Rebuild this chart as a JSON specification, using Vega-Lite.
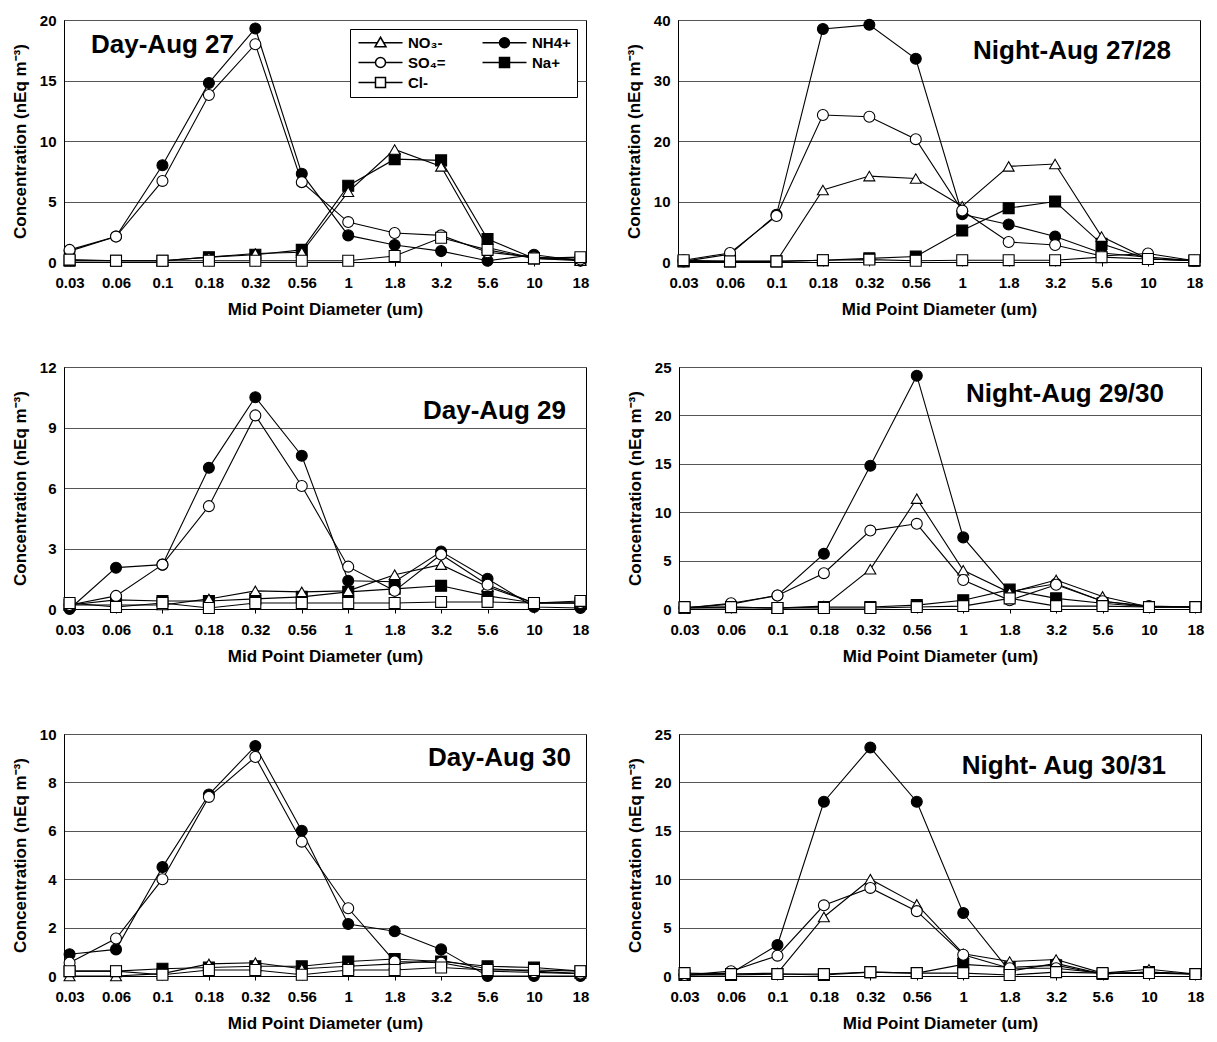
{
  "$schema": "https://vega.github.io/schema/vega-lite/v6.json",
  "background": "white",
  "padding": {"left": 10, "top": 12, "right": 2, "bottom": 2},
  "config": {
    "font": "Liberation Sans",
    "view": {"stroke": "black", "strokeWidth": 1},
    "axis": {"labelFont": "Liberation Sans", "labelFontWeight": "bold", "labelFontSize": 15, "labelColor": "black", "titleFont": "Liberation Sans", "titleFontWeight": "bold", "titleFontSize": 17, "titleColor": "black", "domainColor": "black"},
    "axisX": {"grid": false, "labelAngle": 0, "tickColor": "black", "tickSize": 4, "labelPadding": 9, "titlePadding": 11},
    "axisY": {"gridColor": "#555555", "gridWidth": 1, "ticks": false, "labelPadding": 8, "titlePadding": 10},
    "title": {"font": "Liberation Sans", "fontWeight": "bold", "fontSize": 26, "color": "black", "frame": "group"}
  },
  "datasets": {
    "p1": [
      {"d":"0.03","s":"NH4+","v":0.9},{"d":"0.06","s":"NH4+","v":2.1},{"d":"0.1","s":"NH4+","v":8.0},{"d":"0.18","s":"NH4+","v":14.8},{"d":"0.32","s":"NH4+","v":19.3},{"d":"0.56","s":"NH4+","v":7.3},{"d":"1","s":"NH4+","v":2.2},{"d":"1.8","s":"NH4+","v":1.4},{"d":"3.2","s":"NH4+","v":0.9},{"d":"5.6","s":"NH4+","v":0.1},{"d":"10","s":"NH4+","v":0.6},{"d":"18","s":"NH4+","v":0.1},
      {"d":"0.03","s":"Na+","v":0.1},{"d":"0.06","s":"Na+","v":0.1},{"d":"0.1","s":"Na+","v":0.1},{"d":"0.18","s":"Na+","v":0.4},{"d":"0.32","s":"Na+","v":0.6},{"d":"0.56","s":"Na+","v":1.0},{"d":"1","s":"Na+","v":6.3},{"d":"1.8","s":"Na+","v":8.5},{"d":"3.2","s":"Na+","v":8.4},{"d":"5.6","s":"Na+","v":1.9},{"d":"10","s":"Na+","v":0.3},{"d":"18","s":"Na+","v":0.2},
      {"d":"0.03","s":"NO₃-","v":0.1},{"d":"0.06","s":"NO₃-","v":0.1},{"d":"0.1","s":"NO₃-","v":0.1},{"d":"0.18","s":"NO₃-","v":0.4},{"d":"0.32","s":"NO₃-","v":0.7},{"d":"0.56","s":"NO₃-","v":0.8},{"d":"1","s":"NO₃-","v":5.8},{"d":"1.8","s":"NO₃-","v":9.3},{"d":"3.2","s":"NO₃-","v":7.9},{"d":"5.6","s":"NO₃-","v":1.2},{"d":"10","s":"NO₃-","v":0.3},{"d":"18","s":"NO₃-","v":0.1},
      {"d":"0.03","s":"SO₄=","v":1.0},{"d":"0.06","s":"SO₄=","v":2.1},{"d":"0.1","s":"SO₄=","v":6.7},{"d":"0.18","s":"SO₄=","v":13.8},{"d":"0.32","s":"SO₄=","v":18.0},{"d":"0.56","s":"SO₄=","v":6.6},{"d":"1","s":"SO₄=","v":3.3},{"d":"1.8","s":"SO₄=","v":2.4},{"d":"3.2","s":"SO₄=","v":2.2},{"d":"5.6","s":"SO₄=","v":0.8},{"d":"10","s":"SO₄=","v":0.4},{"d":"18","s":"SO₄=","v":0.2},
      {"d":"0.03","s":"Cl-","v":0.2},{"d":"0.06","s":"Cl-","v":0.1},{"d":"0.1","s":"Cl-","v":0.1},{"d":"0.18","s":"Cl-","v":0.1},{"d":"0.32","s":"Cl-","v":0.1},{"d":"0.56","s":"Cl-","v":0.1},{"d":"1","s":"Cl-","v":0.1},{"d":"1.8","s":"Cl-","v":0.5},{"d":"3.2","s":"Cl-","v":2.0},{"d":"5.6","s":"Cl-","v":1.0},{"d":"10","s":"Cl-","v":0.3},{"d":"18","s":"Cl-","v":0.4}
    ],
    "p2": [
      {"d":"0.03","s":"NH4+","v":0.1},{"d":"0.06","s":"NH4+","v":1.3},{"d":"0.1","s":"NH4+","v":7.8},{"d":"0.18","s":"NH4+","v":38.5},{"d":"0.32","s":"NH4+","v":39.2},{"d":"0.56","s":"NH4+","v":33.6},{"d":"1","s":"NH4+","v":7.9},{"d":"1.8","s":"NH4+","v":6.2},{"d":"3.2","s":"NH4+","v":4.2},{"d":"5.6","s":"NH4+","v":1.5},{"d":"10","s":"NH4+","v":0.8},{"d":"18","s":"NH4+","v":0.2},
      {"d":"0.03","s":"Na+","v":0.1},{"d":"0.06","s":"Na+","v":0.1},{"d":"0.1","s":"Na+","v":0.1},{"d":"0.18","s":"Na+","v":0.3},{"d":"0.32","s":"Na+","v":0.6},{"d":"0.56","s":"Na+","v":0.9},{"d":"1","s":"Na+","v":5.2},{"d":"1.8","s":"Na+","v":8.9},{"d":"3.2","s":"Na+","v":10.0},{"d":"5.6","s":"Na+","v":3.0},{"d":"10","s":"Na+","v":0.5},{"d":"18","s":"Na+","v":0.2},
      {"d":"0.03","s":"NO₃-","v":0.1},{"d":"0.06","s":"NO₃-","v":0.1},{"d":"0.1","s":"NO₃-","v":0.1},{"d":"0.18","s":"NO₃-","v":11.9},{"d":"0.32","s":"NO₃-","v":14.2},{"d":"0.56","s":"NO₃-","v":13.8},{"d":"1","s":"NO₃-","v":9.2},{"d":"1.8","s":"NO₃-","v":15.8},{"d":"3.2","s":"NO₃-","v":16.2},{"d":"5.6","s":"NO₃-","v":4.2},{"d":"10","s":"NO₃-","v":0.5},{"d":"18","s":"NO₃-","v":0.2},
      {"d":"0.03","s":"SO₄=","v":0.3},{"d":"0.06","s":"SO₄=","v":1.5},{"d":"0.1","s":"SO₄=","v":7.6},{"d":"0.18","s":"SO₄=","v":24.3},{"d":"0.32","s":"SO₄=","v":24.0},{"d":"0.56","s":"SO₄=","v":20.3},{"d":"1","s":"SO₄=","v":8.5},{"d":"1.8","s":"SO₄=","v":3.3},{"d":"3.2","s":"SO₄=","v":2.8},{"d":"5.6","s":"SO₄=","v":1.0},{"d":"10","s":"SO₄=","v":1.4},{"d":"18","s":"SO₄=","v":0.2},
      {"d":"0.03","s":"Cl-","v":0.3},{"d":"0.06","s":"Cl-","v":0.1},{"d":"0.1","s":"Cl-","v":0.1},{"d":"0.18","s":"Cl-","v":0.3},{"d":"0.32","s":"Cl-","v":0.4},{"d":"0.56","s":"Cl-","v":0.2},{"d":"1","s":"Cl-","v":0.3},{"d":"1.8","s":"Cl-","v":0.3},{"d":"3.2","s":"Cl-","v":0.3},{"d":"5.6","s":"Cl-","v":0.8},{"d":"10","s":"Cl-","v":0.5},{"d":"18","s":"Cl-","v":0.3}
    ],
    "p3": [
      {"d":"0.03","s":"NH4+","v":0.0},{"d":"0.06","s":"NH4+","v":2.05},{"d":"0.1","s":"NH4+","v":2.2},{"d":"0.18","s":"NH4+","v":7.0},{"d":"0.32","s":"NH4+","v":10.5},{"d":"0.56","s":"NH4+","v":7.6},{"d":"1","s":"NH4+","v":1.4},{"d":"1.8","s":"NH4+","v":1.35},{"d":"3.2","s":"NH4+","v":2.85},{"d":"5.6","s":"NH4+","v":1.5},{"d":"10","s":"NH4+","v":0.1},{"d":"18","s":"NH4+","v":0.05},
      {"d":"0.03","s":"Na+","v":0.2},{"d":"0.06","s":"Na+","v":0.45},{"d":"0.1","s":"Na+","v":0.4},{"d":"0.18","s":"Na+","v":0.4},{"d":"0.32","s":"Na+","v":0.5},{"d":"0.56","s":"Na+","v":0.6},{"d":"1","s":"Na+","v":0.85},{"d":"1.8","s":"Na+","v":1.0},{"d":"3.2","s":"Na+","v":1.15},{"d":"5.6","s":"Na+","v":0.65},{"d":"10","s":"Na+","v":0.3},{"d":"18","s":"Na+","v":0.3},
      {"d":"0.03","s":"NO₃-","v":0.2},{"d":"0.06","s":"NO₃-","v":0.2},{"d":"0.1","s":"NO₃-","v":0.2},{"d":"0.18","s":"NO₃-","v":0.5},{"d":"0.32","s":"NO₃-","v":0.9},{"d":"0.56","s":"NO₃-","v":0.85},{"d":"1","s":"NO₃-","v":0.9},{"d":"1.8","s":"NO₃-","v":1.7},{"d":"3.2","s":"NO₃-","v":2.2},{"d":"5.6","s":"NO₃-","v":1.1},{"d":"10","s":"NO₃-","v":0.3},{"d":"18","s":"NO₃-","v":0.3},
      {"d":"0.03","s":"SO₄=","v":0.2},{"d":"0.06","s":"SO₄=","v":0.65},{"d":"0.1","s":"SO₄=","v":2.2},{"d":"0.18","s":"SO₄=","v":5.1},{"d":"0.32","s":"SO₄=","v":9.6},{"d":"0.56","s":"SO₄=","v":6.1},{"d":"1","s":"SO₄=","v":2.1},{"d":"1.8","s":"SO₄=","v":0.9},{"d":"3.2","s":"SO₄=","v":2.7},{"d":"5.6","s":"SO₄=","v":1.2},{"d":"10","s":"SO₄=","v":0.3},{"d":"18","s":"SO₄=","v":0.3},
      {"d":"0.03","s":"Cl-","v":0.3},{"d":"0.06","s":"Cl-","v":0.1},{"d":"0.1","s":"Cl-","v":0.3},{"d":"0.18","s":"Cl-","v":0.05},{"d":"0.32","s":"Cl-","v":0.3},{"d":"0.56","s":"Cl-","v":0.3},{"d":"1","s":"Cl-","v":0.3},{"d":"1.8","s":"Cl-","v":0.3},{"d":"3.2","s":"Cl-","v":0.35},{"d":"5.6","s":"Cl-","v":0.35},{"d":"10","s":"Cl-","v":0.3},{"d":"18","s":"Cl-","v":0.4}
    ],
    "p4": [
      {"d":"0.03","s":"NH4+","v":0.1},{"d":"0.06","s":"NH4+","v":0.5},{"d":"0.1","s":"NH4+","v":1.4},{"d":"0.18","s":"NH4+","v":5.7},{"d":"0.32","s":"NH4+","v":14.8},{"d":"0.56","s":"NH4+","v":24.1},{"d":"1","s":"NH4+","v":7.4},{"d":"1.8","s":"NH4+","v":1.8},{"d":"3.2","s":"NH4+","v":2.6},{"d":"5.6","s":"NH4+","v":0.8},{"d":"10","s":"NH4+","v":0.3},{"d":"18","s":"NH4+","v":0.2},
      {"d":"0.03","s":"Na+","v":0.1},{"d":"0.06","s":"Na+","v":0.2},{"d":"0.1","s":"Na+","v":0.1},{"d":"0.18","s":"Na+","v":0.2},{"d":"0.32","s":"Na+","v":0.2},{"d":"0.56","s":"Na+","v":0.4},{"d":"1","s":"Na+","v":0.9},{"d":"1.8","s":"Na+","v":2.0},{"d":"3.2","s":"Na+","v":1.1},{"d":"5.6","s":"Na+","v":0.6},{"d":"10","s":"Na+","v":0.2},{"d":"18","s":"Na+","v":0.2},
      {"d":"0.03","s":"NO₃-","v":0.1},{"d":"0.06","s":"NO₃-","v":0.1},{"d":"0.1","s":"NO₃-","v":0.1},{"d":"0.18","s":"NO₃-","v":0.3},{"d":"0.32","s":"NO₃-","v":4.1},{"d":"0.56","s":"NO₃-","v":11.4},{"d":"1","s":"NO₃-","v":4.0},{"d":"1.8","s":"NO₃-","v":1.7},{"d":"3.2","s":"NO₃-","v":3.0},{"d":"5.6","s":"NO₃-","v":1.3},{"d":"10","s":"NO₃-","v":0.2},{"d":"18","s":"NO₃-","v":0.2},
      {"d":"0.03","s":"SO₄=","v":0.1},{"d":"0.06","s":"SO₄=","v":0.6},{"d":"0.1","s":"SO₄=","v":1.4},{"d":"0.18","s":"SO₄=","v":3.7},{"d":"0.32","s":"SO₄=","v":8.1},{"d":"0.56","s":"SO₄=","v":8.8},{"d":"1","s":"SO₄=","v":3.0},{"d":"1.8","s":"SO₄=","v":0.9},{"d":"3.2","s":"SO₄=","v":2.5},{"d":"5.6","s":"SO₄=","v":0.8},{"d":"10","s":"SO₄=","v":0.2},{"d":"18","s":"SO₄=","v":0.2},
      {"d":"0.03","s":"Cl-","v":0.2},{"d":"0.06","s":"Cl-","v":0.2},{"d":"0.1","s":"Cl-","v":0.1},{"d":"0.18","s":"Cl-","v":0.1},{"d":"0.32","s":"Cl-","v":0.1},{"d":"0.56","s":"Cl-","v":0.2},{"d":"1","s":"Cl-","v":0.3},{"d":"1.8","s":"Cl-","v":1.1},{"d":"3.2","s":"Cl-","v":0.3},{"d":"5.6","s":"Cl-","v":0.3},{"d":"10","s":"Cl-","v":0.2},{"d":"18","s":"Cl-","v":0.2}
    ],
    "p5": [
      {"d":"0.03","s":"NH4+","v":0.9},{"d":"0.06","s":"NH4+","v":1.1},{"d":"0.1","s":"NH4+","v":4.5},{"d":"0.18","s":"NH4+","v":7.5},{"d":"0.32","s":"NH4+","v":9.5},{"d":"0.56","s":"NH4+","v":6.0},{"d":"1","s":"NH4+","v":2.15},{"d":"1.8","s":"NH4+","v":1.85},{"d":"3.2","s":"NH4+","v":1.1},{"d":"5.6","s":"NH4+","v":0.0},{"d":"10","s":"NH4+","v":0.0},{"d":"18","s":"NH4+","v":0.0},
      {"d":"0.03","s":"Na+","v":0.2},{"d":"0.06","s":"Na+","v":0.2},{"d":"0.1","s":"Na+","v":0.3},{"d":"0.18","s":"Na+","v":0.35},{"d":"0.32","s":"Na+","v":0.4},{"d":"0.56","s":"Na+","v":0.4},{"d":"1","s":"Na+","v":0.6},{"d":"1.8","s":"Na+","v":0.7},{"d":"3.2","s":"Na+","v":0.6},{"d":"5.6","s":"Na+","v":0.4},{"d":"10","s":"Na+","v":0.35},{"d":"18","s":"Na+","v":0.2},
      {"d":"0.03","s":"NO₃-","v":0.0},{"d":"0.06","s":"NO₃-","v":0.0},{"d":"0.1","s":"NO₃-","v":0.1},{"d":"0.18","s":"NO₃-","v":0.5},{"d":"0.32","s":"NO₃-","v":0.55},{"d":"0.56","s":"NO₃-","v":0.3},{"d":"1","s":"NO₃-","v":0.4},{"d":"1.8","s":"NO₃-","v":0.5},{"d":"3.2","s":"NO₃-","v":0.65},{"d":"5.6","s":"NO₃-","v":0.3},{"d":"10","s":"NO₃-","v":0.2},{"d":"18","s":"NO₃-","v":0.1},
      {"d":"0.03","s":"SO₄=","v":0.55},{"d":"0.06","s":"SO₄=","v":1.55},{"d":"0.1","s":"SO₄=","v":4.0},{"d":"0.18","s":"SO₄=","v":7.4},{"d":"0.32","s":"SO₄=","v":9.05},{"d":"0.56","s":"SO₄=","v":5.55},{"d":"1","s":"SO₄=","v":2.8},{"d":"1.8","s":"SO₄=","v":0.6},{"d":"3.2","s":"SO₄=","v":0.55},{"d":"5.6","s":"SO₄=","v":0.2},{"d":"10","s":"SO₄=","v":0.15},{"d":"18","s":"SO₄=","v":0.1},
      {"d":"0.03","s":"Cl-","v":0.2},{"d":"0.06","s":"Cl-","v":0.2},{"d":"0.1","s":"Cl-","v":0.05},{"d":"0.18","s":"Cl-","v":0.25},{"d":"0.32","s":"Cl-","v":0.25},{"d":"0.56","s":"Cl-","v":0.05},{"d":"1","s":"Cl-","v":0.25},{"d":"1.8","s":"Cl-","v":0.25},{"d":"3.2","s":"Cl-","v":0.35},{"d":"5.6","s":"Cl-","v":0.25},{"d":"10","s":"Cl-","v":0.25},{"d":"18","s":"Cl-","v":0.2}
    ],
    "p6": [
      {"d":"0.03","s":"NH4+","v":0.1},{"d":"0.06","s":"NH4+","v":0.3},{"d":"0.1","s":"NH4+","v":3.2},{"d":"0.18","s":"NH4+","v":18.0},{"d":"0.32","s":"NH4+","v":23.6},{"d":"0.56","s":"NH4+","v":18.0},{"d":"1","s":"NH4+","v":6.5},{"d":"1.8","s":"NH4+","v":0.5},{"d":"3.2","s":"NH4+","v":1.3},{"d":"5.6","s":"NH4+","v":0.2},{"d":"10","s":"NH4+","v":0.4},{"d":"18","s":"NH4+","v":0.2},
      {"d":"0.03","s":"Na+","v":0.1},{"d":"0.06","s":"Na+","v":0.1},{"d":"0.1","s":"Na+","v":0.2},{"d":"0.18","s":"Na+","v":0.1},{"d":"0.32","s":"Na+","v":0.4},{"d":"0.56","s":"Na+","v":0.3},{"d":"1","s":"Na+","v":1.2},{"d":"1.8","s":"Na+","v":0.9},{"d":"3.2","s":"Na+","v":1.1},{"d":"5.6","s":"Na+","v":0.2},{"d":"10","s":"Na+","v":0.4},{"d":"18","s":"Na+","v":0.2},
      {"d":"0.03","s":"NO₃-","v":0.1},{"d":"0.06","s":"NO₃-","v":0.2},{"d":"0.1","s":"NO₃-","v":0.3},{"d":"0.18","s":"NO₃-","v":6.1},{"d":"0.32","s":"NO₃-","v":10.0},{"d":"0.56","s":"NO₃-","v":7.4},{"d":"1","s":"NO₃-","v":2.3},{"d":"1.8","s":"NO₃-","v":1.5},{"d":"3.2","s":"NO₃-","v":1.7},{"d":"5.6","s":"NO₃-","v":0.3},{"d":"10","s":"NO₃-","v":0.7},{"d":"18","s":"NO₃-","v":0.2},
      {"d":"0.03","s":"SO₄=","v":0.1},{"d":"0.06","s":"SO₄=","v":0.5},{"d":"0.1","s":"SO₄=","v":2.1},{"d":"0.18","s":"SO₄=","v":7.3},{"d":"0.32","s":"SO₄=","v":9.1},{"d":"0.56","s":"SO₄=","v":6.7},{"d":"1","s":"SO₄=","v":2.2},{"d":"1.8","s":"SO₄=","v":0.8},{"d":"3.2","s":"SO₄=","v":0.8},{"d":"5.6","s":"SO₄=","v":0.3},{"d":"10","s":"SO₄=","v":0.3},{"d":"18","s":"SO₄=","v":0.2},
      {"d":"0.03","s":"Cl-","v":0.3},{"d":"0.06","s":"Cl-","v":0.2},{"d":"0.1","s":"Cl-","v":0.2},{"d":"0.18","s":"Cl-","v":0.2},{"d":"0.32","s":"Cl-","v":0.4},{"d":"0.56","s":"Cl-","v":0.3},{"d":"1","s":"Cl-","v":0.3},{"d":"1.8","s":"Cl-","v":0.1},{"d":"3.2","s":"Cl-","v":0.4},{"d":"5.6","s":"Cl-","v":0.3},{"d":"10","s":"Cl-","v":0.3},{"d":"18","s":"Cl-","v":0.2}
    ]
  },
  "resolve": {"scale": {"shape": "independent", "fill": "independent"}, "legend": {"shape": "independent", "fill": "independent"}},
  "spacing": 41,
  "vconcat": [
    {
      "spacing": 21,
      "resolve": {"scale": {"shape": "independent", "fill": "independent"}, "legend": {"shape": "independent", "fill": "independent"}},
      "hconcat": [
        {
          "width": 522, "height": 242,
          "title": {"text": "Day-Aug 27", "anchor": "start", "offset": -45, "dx": 27},
          "data": {"name": "p1"},
          "encoding": {
            "x": {"field": "d", "type": "ordinal", "scale": {"type": "point", "domain": ["0.03","0.06","0.1","0.18","0.32","0.56","1","1.8","3.2","5.6","10","18"], "padding": 0.12}, "title": "Mid Point Diameter (um)"},
            "y": {"field": "v", "type": "quantitative", "scale": {"domain": [0, 20], "nice": false}, "axis": {"values": [0, 5, 10, 15, 20]}, "title": "Concentration (nEq m⁻³)"}
          },
          "resolve": {"scale": {"shape": "independent", "fill": "independent"}, "legend": {"shape": "independent", "fill": "independent"}},
          "layer": [
            {"mark": {"type": "line", "color": "black", "strokeWidth": 1.1}, "encoding": {"detail": {"field": "s", "type": "nominal"}}},
            {"mark": {"type": "point", "filled": true, "stroke": "black", "strokeWidth": 1.1, "size": 120, "opacity": 1},
             "encoding": {
               "shape": {"field": "s", "type": "nominal", "scale": {"domain": ["NH4+","Na+","NO₃-","SO₄=","Cl-"], "range": ["circle","square","triangle-up","circle","square"]}, "legend": null},
               "fill": {"field": "s", "type": "nominal", "scale": {"domain": ["NH4+","Na+","NO₃-","SO₄=","Cl-"], "range": ["black","black","white","white","white"]}, "legend": null}
             }},
            {"mark": {"type": "point", "filled": true, "stroke": "black", "strokeWidth": 1.1, "size": 100, "opacity": 0},
             "encoding": {
               "shape": {"field": "s", "type": "nominal", "scale": {"domain": ["NO₃-","SO₄=","Cl-","NH4+","Na+"], "range": ["M-4.4,0H-0.64M0.64,0H4.4M0,-1.1L1.1,0.8L-1.1,0.8Z", "M-4.4,0H-1M1,0H4.4M-1,0A1,1 0 1,1 1,0A1,1 0 1,1 -1,0Z", "M-4.4,0H-1M1,0H4.4M-1,-1H1V1H-1Z", "M-4.4,0H-1M1,0H4.4M-1,0A1,1 0 1,1 1,0A1,1 0 1,1 -1,0Z", "M-4.4,0H-1M1,0H4.4M-1,-1H1V1H-1Z"]},
                 "legend": {"orient": "top-right", "offset": 9, "columns": 2, "title": null, "strokeColor": "black", "fillColor": "white", "padding": 6, "labelFont": "Liberation Sans", "labelFontWeight": "bold", "labelFontSize": 15, "labelColor": "black", "symbolSize": 100, "symbolOpacity": 1, "symbolOffset": 17, "labelOffset": 20, "columnPadding": 33, "rowPadding": 3,
                   "encode": {"symbols": {"stroke": {"value": "black"}, "strokeWidth": {"value": 1.1}}}}},
               "fill": {"field": "s", "type": "nominal", "scale": {"domain": ["NO₃-","SO₄=","Cl-","NH4+","Na+"], "range": ["white","white","white","black","black"]},
                 "legend": {"orient": "top-right", "offset": 9, "columns": 2, "title": null, "strokeColor": "black", "fillColor": "white", "padding": 6, "labelFont": "Liberation Sans", "labelFontWeight": "bold", "labelFontSize": 15, "labelColor": "black", "symbolSize": 100, "symbolOpacity": 1, "symbolOffset": 17, "labelOffset": 20, "columnPadding": 33, "rowPadding": 3,
                   "encode": {"symbols": {"stroke": {"value": "black"}, "strokeWidth": {"value": 1.1}}}}}
             }}
          ]
        },
        {
          "width": 522, "height": 242,
          "title": {"text": "Night-Aug 27/28", "anchor": "end", "offset": -51, "dx": -29},
          "data": {"name": "p2"},
          "encoding": {
            "x": {"field": "d", "type": "ordinal", "scale": {"type": "point", "domain": ["0.03","0.06","0.1","0.18","0.32","0.56","1","1.8","3.2","5.6","10","18"], "padding": 0.12}, "title": "Mid Point Diameter (um)"},
            "y": {"field": "v", "type": "quantitative", "scale": {"domain": [0, 40], "nice": false}, "axis": {"values": [0, 10, 20, 30, 40]}, "title": "Concentration (nEq m⁻³)"}
          },
          "layer": [
            {"mark": {"type": "line", "color": "black", "strokeWidth": 1.1}, "encoding": {"detail": {"field": "s", "type": "nominal"}}},
            {"mark": {"type": "point", "filled": true, "stroke": "black", "strokeWidth": 1.1, "size": 120, "opacity": 1},
             "encoding": {
               "shape": {"field": "s", "type": "nominal", "scale": {"domain": ["NO₃-","SO₄=","Cl-","NH4+","Na+"], "range": ["triangle-up","circle","square","circle","square"]}, "legend": null},
               "fill": {"field": "s", "type": "nominal", "scale": {"domain": ["NO₃-","SO₄=","Cl-","NH4+","Na+"], "range": ["white","white","white","black","black"]}, "legend": null}
             }}
          ]
        }
      ]
    },
    {
      "spacing": 61,
      "resolve": {"scale": {"shape": "independent", "fill": "independent"}, "legend": {"shape": "independent", "fill": "independent"}},
      "vconcat": [
        {
          "spacing": 35,
          "resolve": {"scale": {"shape": "independent", "fill": "independent"}, "legend": {"shape": "independent", "fill": "independent"}},
          "hconcat": [
            {
              "width": 522, "height": 242,
              "title": {"text": "Day-Aug 29", "anchor": "end", "offset": -64, "dx": -20},
              "data": {"name": "p3"},
              "encoding": {
                "x": {"field": "d", "type": "ordinal", "scale": {"type": "point", "domain": ["0.03","0.06","0.1","0.18","0.32","0.56","1","1.8","3.2","5.6","10","18"], "padding": 0.12}, "title": "Mid Point Diameter (um)"},
                "y": {"field": "v", "type": "quantitative", "scale": {"domain": [0, 12], "nice": false}, "axis": {"values": [0, 3, 6, 9, 12]}, "title": "Concentration (nEq m⁻³)"}
              },
              "layer": [
                {"mark": {"type": "line", "color": "black", "strokeWidth": 1.1}, "encoding": {"detail": {"field": "s", "type": "nominal"}}},
                {"mark": {"type": "point", "filled": true, "stroke": "black", "strokeWidth": 1.1, "size": 120, "opacity": 1},
                 "encoding": {
                   "shape": {"field": "s", "type": "nominal", "scale": {"domain": ["NO₃-","SO₄=","Cl-","NH4+","Na+"], "range": ["triangle-up","circle","square","circle","square"]}, "legend": null},
                   "fill": {"field": "s", "type": "nominal", "scale": {"domain": ["NO₃-","SO₄=","Cl-","NH4+","Na+"], "range": ["white","white","white","black","black"]}, "legend": null}
                 }}
              ]
            },
            {
              "width": 522, "height": 242,
              "title": {"text": "Night-Aug 29/30", "anchor": "end", "offset": -47, "dx": -37},
              "data": {"name": "p4"},
              "encoding": {
                "x": {"field": "d", "type": "ordinal", "scale": {"type": "point", "domain": ["0.03","0.06","0.1","0.18","0.32","0.56","1","1.8","3.2","5.6","10","18"], "padding": 0.12}, "title": "Mid Point Diameter (um)"},
                "y": {"field": "v", "type": "quantitative", "scale": {"domain": [0, 25], "nice": false}, "axis": {"values": [0, 5, 10, 15, 20, 25]}, "title": "Concentration (nEq m⁻³)"}
              },
              "layer": [
                {"mark": {"type": "line", "color": "black", "strokeWidth": 1.1}, "encoding": {"detail": {"field": "s", "type": "nominal"}}},
                {"mark": {"type": "point", "filled": true, "stroke": "black", "strokeWidth": 1.1, "size": 120, "opacity": 1},
                 "encoding": {
                   "shape": {"field": "s", "type": "nominal", "scale": {"domain": ["NO₃-","SO₄=","Cl-","NH4+","Na+"], "range": ["triangle-up","circle","square","circle","square"]}, "legend": null},
                   "fill": {"field": "s", "type": "nominal", "scale": {"domain": ["NO₃-","SO₄=","Cl-","NH4+","Na+"], "range": ["white","white","white","black","black"]}, "legend": null}
                 }}
              ]
            }
          ]
        },
        {
          "spacing": 35,
          "resolve": {"scale": {"shape": "independent", "fill": "independent"}, "legend": {"shape": "independent", "fill": "independent"}},
          "hconcat": [
            {
              "width": 522, "height": 242,
              "title": {"text": "Day-Aug 30", "anchor": "end", "offset": -44, "dx": -15},
              "data": {"name": "p5"},
              "encoding": {
                "x": {"field": "d", "type": "ordinal", "scale": {"type": "point", "domain": ["0.03","0.06","0.1","0.18","0.32","0.56","1","1.8","3.2","5.6","10","18"], "padding": 0.12}, "title": "Mid Point Diameter (um)"},
                "y": {"field": "v", "type": "quantitative", "scale": {"domain": [0, 10], "nice": false}, "axis": {"values": [0, 2, 4, 6, 8, 10]}, "title": "Concentration (nEq m⁻³)"}
              },
              "layer": [
                {"mark": {"type": "line", "color": "black", "strokeWidth": 1.1}, "encoding": {"detail": {"field": "s", "type": "nominal"}}},
                {"mark": {"type": "point", "filled": true, "stroke": "black", "strokeWidth": 1.1, "size": 120, "opacity": 1},
                 "encoding": {
                   "shape": {"field": "s", "type": "nominal", "scale": {"domain": ["NO₃-","SO₄=","Cl-","NH4+","Na+"], "range": ["triangle-up","circle","square","circle","square"]}, "legend": null},
                   "fill": {"field": "s", "type": "nominal", "scale": {"domain": ["NO₃-","SO₄=","Cl-","NH4+","Na+"], "range": ["white","white","white","black","black"]}, "legend": null}
                 }}
              ]
            },
            {
              "width": 522, "height": 242,
              "title": {"text": "Night- Aug 30/31", "anchor": "end", "offset": -52, "dx": -35},
              "data": {"name": "p6"},
              "encoding": {
                "x": {"field": "d", "type": "ordinal", "scale": {"type": "point", "domain": ["0.03","0.06","0.1","0.18","0.32","0.56","1","1.8","3.2","5.6","10","18"], "padding": 0.12}, "title": "Mid Point Diameter (um)"},
                "y": {"field": "v", "type": "quantitative", "scale": {"domain": [0, 25], "nice": false}, "axis": {"values": [0, 5, 10, 15, 20, 25]}, "title": "Concentration (nEq m⁻³)"}
              },
              "layer": [
                {"mark": {"type": "line", "color": "black", "strokeWidth": 1.1}, "encoding": {"detail": {"field": "s", "type": "nominal"}}},
                {"mark": {"type": "point", "filled": true, "stroke": "black", "strokeWidth": 1.1, "size": 120, "opacity": 1},
                 "encoding": {
                   "shape": {"field": "s", "type": "nominal", "scale": {"domain": ["NO₃-","SO₄=","Cl-","NH4+","Na+"], "range": ["triangle-up","circle","square","circle","square"]}, "legend": null},
                   "fill": {"field": "s", "type": "nominal", "scale": {"domain": ["NO₃-","SO₄=","Cl-","NH4+","Na+"], "range": ["white","white","white","black","black"]}, "legend": null}
                 }}
              ]
            }
          ]
        }
      ]
    }
  ]
}
